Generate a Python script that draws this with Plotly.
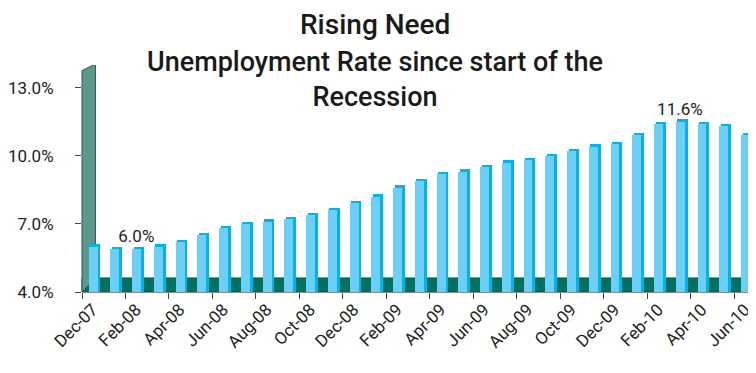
import plotly.graph_objects as go

months = ["Dec-07", "Jan-08", "Feb-08", "Mar-08", "Apr-08", "May-08", "Jun-08", "Jul-08",
          "Aug-08", "Sep-08", "Oct-08", "Nov-08", "Dec-08", "Jan-09", "Feb-09", "Mar-09",
          "Apr-09", "May-09", "Jun-09", "Jul-09", "Aug-09", "Sep-09", "Oct-09", "Nov-09",
          "Dec-09", "Jan-10", "Feb-10", "Mar-10", "Apr-10", "May-10", "Jun-10"]
rates = [6.1, 6.0, 6.0, 6.1, 6.3, 6.6, 6.9, 7.1, 7.2, 7.3, 7.5, 7.7, 8.0, 8.3, 8.7, 9.0,
         9.3, 9.4, 9.6, 9.8, 9.9, 10.1, 10.3, 10.5, 10.6, 11.0, 11.5, 11.6, 11.5, 11.4, 11.0]
label_months = ["Feb-08", "Mar-10"]
label_texts = ["6.0%", "11.6%"]
tick_months = months[::2]
y_ticks = [4, 7, 10, 13]
y_tick_text = ["4.0%", "7.0%", "10.0%", "13.0%"]

FONT = "Roboto"
cap = 0.1
front = [v - cap for v in rates]

fig = go.Figure()
# side / cap (darker cyan)
fig.add_trace(go.Bar(x=months, y=rates, width=0.47, offset=-0.12,
                     marker=dict(color="#00b4ee", line=dict(width=0)), hoverinfo="skip"))
# front face
fig.add_trace(go.Bar(x=months, y=front, width=0.41, offset=-0.19,
                     marker=dict(color="#6dcff6", line=dict(width=0)), hoverinfo="skip"))
# data labels
lab_vals = [rates[months.index(m)] for m in label_months]
fig.add_trace(go.Scatter(x=label_months, y=lab_vals, mode="text", text=label_texts,
                         textposition="top center",
                         textfont=dict(family=FONT, size=17, color="#222"),
                         hoverinfo="skip", cliponaxis=False))

shapes = [
    # floor band
    dict(type="rect", xref="paper", yref="y", x0=0.0, x1=1.0, y0=4.0, y1=4.62,
         fillcolor="#00715f", line=dict(color="#00604f", width=1), layer="below"),
    # back wall (parallelogram)
    dict(type="path", xref="paper", yref="y",
         path="M 0,4 L 0,13.75 L 0.02,14.05 L 0.02,4.62 Z",
         fillcolor="#5a9a8c", line=dict(color="#2f5a52", width=1), layer="below"),
]

annotations = [
    dict(text="Rising Need", xref="paper", yref="paper", x=0.435, y=1.178, yanchor="middle",
         showarrow=False, font=dict(family=FONT, size=28, color="#1a1a1a", weight=500)),
    dict(text="Unemployment Rate since start of the<br>Recession", xref="paper", yref="paper",
         x=0.435, y=0.935, yanchor="middle", showarrow=False, align="center",
         font=dict(family=FONT, size=27, color="#1a1a1a", weight=500)),
]

# The page body has an 8px default margin; the figure is sized to fit inside it.
fig.update_layout(
    width=748, height=365,
    margin=dict(l=74, r=0, t=57, b=81),
    paper_bgcolor="white", plot_bgcolor="white",
    barmode="overlay", bargap=0, showlegend=False,
    shapes=shapes, annotations=annotations,
    font=dict(family=FONT, color="#222"),
)
fig.update_xaxes(type="category", categoryorder="array", categoryarray=months,
                 range=[-0.5, len(months) - 0.5], automargin=False,
                 tickvals=tick_months, ticktext=tick_months, tickson="boundaries",
                 ticks="outside", ticklen=6, tickcolor="#444", tickangle=-45,
                 tickfont=dict(family=FONT, size=17, color="#222"),
                 showline=True, linecolor="#888", linewidth=1, showgrid=False, zeroline=False)
fig.update_yaxes(range=[4, 14], tickvals=y_ticks, ticktext=y_tick_text, automargin=False,
                 ticks="outside", ticklen=6, tickcolor="#444", ticklabelstandoff=18,
                 tickfont=dict(family=FONT, size=17, color="#222"),
                 showline=False, showgrid=False, zeroline=False)

fig.write_html("out.html")
